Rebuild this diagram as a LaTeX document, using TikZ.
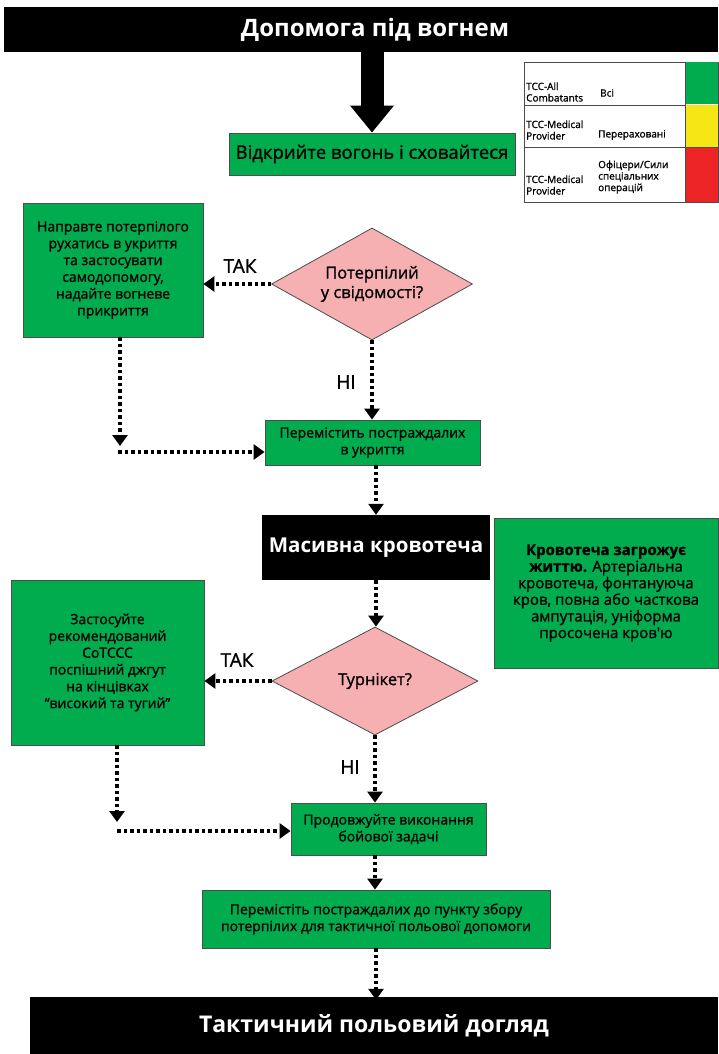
\documentclass[tikz,border=0pt]{standalone}
\usepackage{fontspec}
\setmainfont{Open Sans}
\newfontfamily\mediumfont{Open Sans}[FakeBold=1.2]
\usepackage{xcolor}
\usetikzlibrary{arrows.meta,shapes.geometric}

\definecolor{boxgreen}{RGB}{0,172,78}
\definecolor{askpink}{RGB}{247,176,178}
\definecolor{legyellow}{RGB}{246,230,22}
\definecolor{legred}{RGB}{237,36,38}

\tikzset{
	greenbox/.style = {draw=black!70, line width=.8pt, fill=boxgreen, align=center, inner sep=0pt,
		font=\mediumfont\fontsize{14}{16.8}\selectfont},
	askbox/.style = {diamond, aspect=1.8, draw=black!70, line width=.8pt, fill=askpink, align=center,
		inner sep=0pt, font=\mediumfont\fontsize{16.5}{19.5}\selectfont},
	darkbar/.style = {fill=black, inner sep=0pt},
	bartext/.style = {text=white, font=\bfseries\fontsize{24}{28}\selectfont},
	flow/.style = {line width=3.5pt, dash pattern=on 3.5pt off 3pt, -{Triangle[length=11pt,width=15pt]}},
	bigflow/.style = {line width=23pt, -{Triangle[length=27pt,width=42pt]}},
	answer/.style = {font=\mediumfont\fontsize{19}{22}\selectfont},
	legtext/.style = {anchor=west, align=left, inner sep=0pt, font=\mediumfont\fontsize{10}{11.5}\selectfont}
}

\begin{document}
\begin{tikzpicture}[x=1pt, y=-1pt]
	\useasboundingbox (0,0) rectangle (718,1054);

	% care under fire
	\node[darkbar, minimum width=714pt, minimum height=45pt] (topbar) at (361,29.5) {};
	\node[bartext] (toptext) at (375,29.5) {Допомога під вогнем};
	\node[greenbox, minimum width=286pt, minimum height=42pt, font=\mediumfont\fontsize{18.5}{21}\selectfont] (fire) at (372,154) {Відкрийте вогонь і сховайтеся};
	\draw[bigflow] (topbar.south -| fire.north) -- (fire.north);

	% legend
	\draw[line width=.6pt, black!70] (524,62) rectangle (718,202);
	\draw[line width=.6pt, black!70] (524,105) -- (718,105);
	\draw[line width=.6pt, black!70] (524,147) -- (718,147);
	\fill[boxgreen] (685,62.5) rectangle (718,104.5);
	\fill[legyellow] (685,105.5) rectangle (718,146.5);
	\fill[legred] (685,147.5) rectangle (718,201.5);
	\draw[line width=.6pt, black!70] (685,62) -- (685,202);
	\node[legtext] (lg1a) at (526,92) {TCC-All\\Combatants};
	\node[legtext] (lg1b) at (600,93) {Всі};
	\node[legtext] (lg2a) at (526,130) {TCC-Medical\\Provider};
	\node[legtext] (lg2b) at (598,135) {Перераховані};
	\node[legtext] (lg3a) at (526,185) {TCC-Medical\\Provider};
	\node[legtext] (lg3b) at (598,177) {Офіцери/Сили\\спеціальних\\операцій};

	% conscious?
	\node[greenbox, minimum width=180pt, minimum height=134pt] (selfaid) at (113,270) {Направте потерпілого\\рухатись в укриття\\та застосувати\\самодопомогу,\\надайте вогневе\\прикриття};
	\node[askbox, minimum width=201pt, minimum height=112pt] (conscious) at (372,284) {Потерпілий\\у свідомості?};
	\node[greenbox, minimum width=215pt, minimum height=45pt] (cover) at (372.5,442.5) {Перемістить постраждалих\\в укриття};
	\draw[flow] (conscious.west) -- (conscious.west -| selfaid.east);
	\node[answer] (yes1) at (240,266) {ТАК};
	\draw[flow] (conscious.south) -- (conscious.south |- cover.north);
	\node[answer] (no1) at (346,382) {НІ};
	\coordinate (turn1) at (120,446);
	\coordinate (turn1b) at (118,452);
	\draw[flow] (selfaid.south -| turn1) -- (turn1);
	\draw[flow] (turn1b) -- (turn1b -| cover.west);

	% massive bleeding
	\node[darkbar, minimum width=228pt, minimum height=65pt, bartext, font=\bfseries\fontsize{20.5}{24}\selectfont] (bleed) at (376,547.5) {Масивна кровотеча};
	\node[greenbox, minimum width=224pt, minimum height=150pt, font=\mediumfont\fontsize{15}{16.6}\selectfont] (threat) at (606,593) {\textbf{Кровотеча загрожує}\\\textbf{життю.} Артеріальна\\кровотеча, фонтануюча\\кров, повна або часткова\\ампутація, уніформа\\просочена кров'ю};
	\draw[flow] (cover.south -| bleed.north) -- (bleed.north);

	% tourniquet?
	\node[askbox, minimum width=206pt, minimum height=108pt] (tq) at (375,681) {Турнікет?};
	\node[greenbox, minimum width=193pt, minimum height=165pt] (applytq) at (107.5,662.5) {Застосуйте\\рекомендований\\CoTCCC\\поспішний джгут\\на кінцівках\\“високий та тугий”};
	\node[greenbox, minimum width=195pt, minimum height=52pt] (mission) at (388.5,829) {Продовжуйте виконання\\бойової задачі};
	\draw[flow] (bleed.south) -- (bleed.south |- tq.north);
	\draw[flow] (tq.west) -- (tq.west -| applytq.east);
	\node[answer] (yes2) at (237,660) {ТАК};
	\draw[flow] (tq.south) -- (tq.south |- mission.north);
	\node[answer] (no2) at (350,767) {НІ};
	\coordinate (turn2) at (117,822);
	\coordinate (turn2b) at (117,831);
	\draw[flow] (applytq.south -| turn2) -- (turn2);
	\draw[flow] (turn2b) -- (turn2b -| mission.west);

	% casualty collection point
	\node[greenbox, minimum width=348pt, minimum height=58pt] (evac) at (376,919) {Перемістіть постраждалих до пункту збору\\потерпілих для тактичної польової допомоги};
	\draw[flow] (tq.south |- mission.south) -- (tq.south |- evac.north);
	\node[darkbar, minimum width=688pt, minimum height=57pt, bartext, font=\bfseries\fontsize{23}{27}\selectfont] (tfc) at (374,1025.5) {Тактичний польовий догляд};
	\draw[flow] (evac.south) -- ([yshift=-3pt]evac.south |- tfc.north);
\end{tikzpicture}
\end{document}
